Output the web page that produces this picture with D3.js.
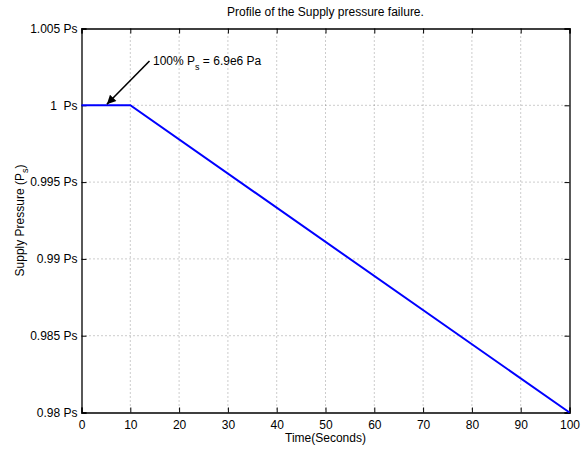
<!DOCTYPE html>
<html>
<head>
<meta charset="utf-8">
<script src="https://cdn.jsdelivr.net/npm/d3@7"></script>
<style>
  body { margin: 0; background: #fff; }
  svg { font-family: "Liberation Sans", Arial, sans-serif; }
  text { white-space: pre; }
</style>
</head>
<body>
<svg id="chart"></svg>
<script>
// data
let times = [0, 10, 100];
let pressure = [1, 1, 0.98];
let xTicks = [0, 10, 20, 30, 40, 50, 60, 70, 80, 90, 100];
let yTicks = [0.98, 0.985, 0.99, 0.995, 1, 1.005];
let yTickLabels = ["0.98 Ps", "0.985 Ps", "0.99 Ps", "0.995 Ps", "1  Ps", "1.005 Ps"];

let width = 587;
let height = 449;
let plotLeft = 81.5, plotRight = 569.5, plotTop = 28.5, plotBottom = 412.5;

let svg = d3.select("#chart").attr("width", width).attr("height", height);

let xScale = d3.scaleLinear().domain([0, 100]).range([plotLeft, plotRight]);
let yScale = d3.scaleLinear().domain([0.98, 1.005]).range([plotBottom, plotTop]);

// grid
let grid = svg.append("g");
xTicks.slice(1, -1).forEach((t) => {
  grid.append("line")
    .attr("x1", xScale(t)).attr("x2", xScale(t))
    .attr("y1", plotTop).attr("y2", plotBottom)
    .attr("stroke", "#555").attr("stroke-width", 0.6)
    .attr("stroke-dasharray", "1,3");
});
yTicks.slice(1, -1).forEach((t) => {
  grid.append("line")
    .attr("x1", plotLeft).attr("x2", plotRight)
    .attr("y1", yScale(t)).attr("y2", yScale(t))
    .attr("stroke", "#555").attr("stroke-width", 0.6)
    .attr("stroke-dasharray", "1,3");
});

// axes
let xAxis = d3.axisBottom(xScale).tickValues(xTicks).tickSize(-5).tickPadding(8).tickFormat(d3.format("d"));
let yAxis = d3.axisLeft(yScale).tickValues(yTicks).tickSize(-5).tickPadding(4)
  .tickFormat((d, i) => yTickLabels[i]);
let xTop = d3.axisTop(xScale).tickValues(xTicks).tickSize(-5).tickFormat("");
let yRight = d3.axisRight(yScale).tickValues(yTicks).tickSize(-5).tickFormat("");

let styleAxis = (g) => {
  g.selectAll("path").attr("stroke", "#000").attr("stroke-width", 1.3);
  g.selectAll("line").attr("stroke", "#000");
  g.selectAll("text").attr("fill", "#000").style("font-size", "12px");
  g.attr("font-family", null);
};

svg.append("g").attr("transform", "translate(0," + plotBottom + ")").call(xAxis).call(styleAxis);
svg.append("g").attr("transform", "translate(" + plotLeft + ",0)").call(yAxis).call(styleAxis);
svg.append("g").attr("transform", "translate(0," + plotTop + ")").call(xTop).call(styleAxis);
svg.append("g").attr("transform", "translate(" + plotRight + ",0)").call(yRight).call(styleAxis);

// line
let line = d3.line().x((d) => xScale(d[0])).y((d) => yScale(d[1]));
svg.append("path")
  .datum(times.map((t, i) => [t, pressure[i]]))
  .attr("d", line)
  .attr("fill", "none")
  .attr("stroke", "#0000ff")
  .attr("stroke-width", 2);

// annotation arrow
svg.append("defs").append("marker")
  .attr("id", "arrow")
  .attr("viewBox", "0 0 10 10")
  .attr("refX", 10).attr("refY", 5)
  .attr("markerWidth", 10).attr("markerHeight", 9)
  .attr("orient", "auto")
  .attr("markerUnits", "userSpaceOnUse")
  .append("path").attr("d", "M0,0 L10,5 L0,10 z").attr("fill", "#000");

svg.append("line")
  .attr("x1", 149.5).attr("y1", 61)
  .attr("x2", xScale(5.2)).attr("y2", yScale(1) - 1)
  .attr("stroke", "#000").attr("stroke-width", 1.6)
  .attr("marker-end", "url(#arrow)");

let note = svg.append("text").attr("x", 153).attr("y", 65).style("font-size", "12px");
note.append("tspan").text("100% P");
note.append("tspan").attr("dy", 5).style("font-size", "9px").text("s");
note.append("tspan").attr("dy", -5).text(" = 6.9e6 Pa");

// title and labels
svg.append("text")
  .attr("x", (plotLeft + plotRight) / 2).attr("y", 16)
  .attr("text-anchor", "middle").style("font-size", "12px")
  .text("Profile of the Supply pressure failure.");

svg.append("text")
  .attr("x", (plotLeft + plotRight) / 2).attr("y", 442)
  .attr("text-anchor", "middle").style("font-size", "12px")
  .text("Time(Seconds)");

let yl = svg.append("text")
  .attr("transform", "translate(24," + ((plotTop + plotBottom) / 2) + ") rotate(-90)")
  .attr("text-anchor", "middle").style("font-size", "12px");
yl.append("tspan").text("Supply Pressure (P");
yl.append("tspan").attr("dy", 4).style("font-size", "9px").text("s");
yl.append("tspan").attr("dy", -4).text(")");
</script>
</body>
</html>
